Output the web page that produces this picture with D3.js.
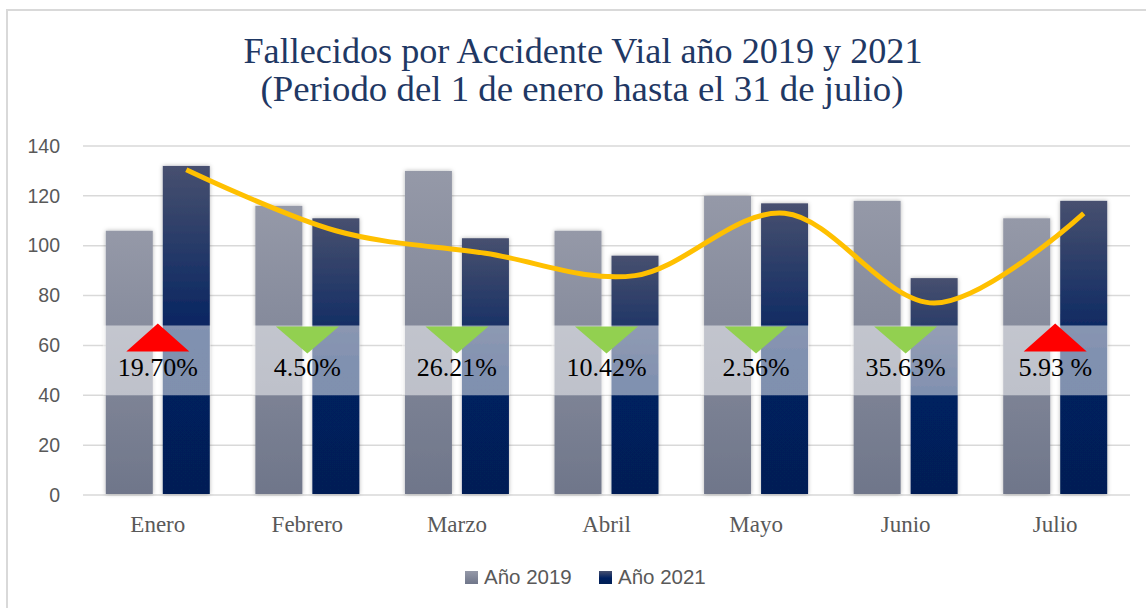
<!DOCTYPE html>
<html>
<head>
<meta charset="utf-8">
<script src="https://cdn.jsdelivr.net/npm/d3@7"></script>
<style>
  body { margin: 0; background: #fff; }
  svg { display: block; }
</style>
</head>
<body>
<svg id="chart"></svg>
<script>
// Data
const months = ["Enero", "Febrero", "Marzo", "Abril", "Mayo", "Junio", "Julio"];
const years = ["Año 2019", "Año 2021"];
const deaths2019 = [106, 116, 130, 106, 120, 118, 111];
const deaths2021 = [132, 111, 103, 96, 117, 87, 118];
const trendValues = [130.5, 106, 97, 88, 113, 77, 113];
const changeLabels = ["19.70%", "4.50%", "26.21%", "10.42%", "2.56%", "35.63%", "5.93 %"];
const changeDir = ["up", "down", "down", "down", "down", "down", "up"];
const yTicks = [0, 20, 40, 60, 80, 100, 120, 140];

// Configuration
const W = 1146, H = 608;
const plot = { left: 83, right: 1130, top: 146, bottom: 495 };
const serif = "'Liberation Serif', 'Times New Roman', serif";
const sans = "'Liberation Sans', Arial, sans-serif";

const svg = d3.select("#chart").attr("width", W).attr("height", H);

// gradients + shadow
const defs = svg.append("defs");
const g19 = defs.append("linearGradient").attr("id", "g2019")
    .attr("x1", 0).attr("y1", 0).attr("x2", 0).attr("y2", 1);
g19.append("stop").attr("offset", "0%").attr("stop-color", "#9599a8");
g19.append("stop").attr("offset", "100%").attr("stop-color", "#6f768a");
const g21 = defs.append("linearGradient").attr("id", "g2021")
    .attr("x1", 0).attr("y1", 0).attr("x2", 0).attr("y2", 1);
g21.append("stop").attr("offset", "0%").attr("stop-color", "#47506f");
g21.append("stop").attr("offset", "55%").attr("stop-color", "#002060");
g21.append("stop").attr("offset", "100%").attr("stop-color", "#001f55");
const shadow = defs.append("filter").attr("id", "shadow")
    .attr("x", "-20%").attr("y", "-10%").attr("width", "140%").attr("height", "120%");
shadow.append("feDropShadow").attr("dx", 0).attr("dy", 0)
    .attr("stdDeviation", 2.2).attr("flood-color", "#000").attr("flood-opacity", 0.3);

// chart border
svg.append("rect")
    .attr("x", 7).attr("y", 10).attr("width", W + 10).attr("height", H + 10)
    .attr("fill", "none").attr("stroke", "#d9d9d9").attr("stroke-width", 2);

// Title
const title = svg.append("g").attr("fill", "#1f3864").attr("font-family", serif)
    .attr("font-size", 35).attr("text-anchor", "middle");
title.append("text").attr("x", 583).attr("y", 63)
    .attr("textLength", 679).attr("lengthAdjust", "spacingAndGlyphs")
    .text("Fallecidos por Accidente Vial año 2019 y 2021");
title.append("text").attr("x", 582).attr("y", 101)
    .attr("textLength", 643).attr("lengthAdjust", "spacingAndGlyphs")
    .text("(Periodo del 1 de enero hasta el 31 de julio)");

// Scales
const x = d3.scaleBand().domain(months).range([plot.left, plot.right]).padding(0);
const x1 = d3.scaleBand().domain(years)
    .range([x.bandwidth() / 2 - 52, x.bandwidth() / 2 + 52])
    .paddingInner(10 / 57).paddingOuter(0);
const y = d3.scaleLinear().domain([0, 140]).range([plot.bottom, plot.top]);

// Grid
svg.append("g")
    .selectAll("line").data(yTicks).join("line")
    .attr("x1", plot.left).attr("x2", plot.right)
    .attr("y1", d => y(d)).attr("y2", d => y(d))
    .attr("stroke", "#d9d9d9").attr("stroke-width", 1.5);

// Y axis
const yAxis = svg.append("g").attr("transform", "translate(60,0)")
    .call(d3.axisLeft(y).tickValues(yTicks).tickSize(0).tickPadding(0));
yAxis.select(".domain").remove();
yAxis.selectAll("text")
    .attr("font-family", sans).attr("font-size", 19.5).attr("fill", "#595959");

// X axis labels
const xAxis = svg.append("g").attr("transform", `translate(0,${plot.bottom})`)
    .call(d3.axisBottom(x).tickSize(0).tickPadding(0));
xAxis.select(".domain").remove();
xAxis.selectAll("text")
    .attr("font-family", serif).attr("font-size", 23).attr("fill", "#595959")
    .attr("dy", null).attr("y", 37);

// Bars
const rows = months.map((m, i) => ({ month: m, values: [
    { year: years[0], value: deaths2019[i] },
    { year: years[1], value: deaths2021[i] }
] }));

svg.append("g")
    .selectAll("g").data(rows).join("g")
    .attr("transform", d => `translate(${x(d.month)},0)`)
    .selectAll("rect").data(d => d.values).join("rect")
    .attr("x", d => x1(d.year))
    .attr("width", x1.bandwidth())
    .attr("y", d => y(d.value))
    .attr("height", d => y(0) - y(d.value) - 1)
    .attr("fill", d => d.year === years[0] ? "url(#g2019)" : "url(#g2021)")
    .attr("filter", "url(#shadow)");

// Trend line (through the 2021 bar centres), Excel-style smoothing
const line = d3.line()
    .x((d, i) => x(months[i]) + x1(years[1]) + x1.bandwidth() / 2)
    .y(d => y(d))
    .curve(d3.curveCardinal.tension(0));
svg.append("path").datum(trendValues)
    .attr("d", line)
    .attr("fill", "none").attr("stroke", "#ffc000").attr("stroke-width", 5)
    .attr("stroke-linecap", "butt");

// Change annotations
const boxTop = 68, boxBottom = 40, boxW = 108;
const notes = svg.append("g").selectAll("g").data(months).join("g")
    .attr("transform", d => `translate(${x(d) + x.bandwidth() / 2},0)`);

notes.append("rect")
    .attr("x", -boxW / 2 - 1).attr("width", boxW)
    .attr("y", y(boxTop)).attr("height", y(boxBottom) - y(boxTop))
    .attr("fill", "#ffffff").attr("fill-opacity", 0.5);

notes.append("path")
    .attr("d", (d, i) => {
        const hw = 31.5;
        if (changeDir[i] === "up") {
            const a = y(boxTop) - 2, b = a + 28;
            return `M${-hw},${b}L${hw},${b}L0,${a}Z`;
        }
        const a = y(boxTop) + 1, b = a + 27;
        return `M${-hw},${a}L${hw},${a}L0,${b}Z`;
    })
    .attr("fill", (d, i) => changeDir[i] === "up" ? "#ff0000" : "#92d050");

notes.append("text")
    .attr("y", 376)
    .attr("text-anchor", "middle")
    .attr("font-family", serif).attr("font-size", 26).attr("fill", "#000")
    .text((d, i) => changeLabels[i]);

// Legend
const legend = svg.append("g").attr("transform", "translate(465,577)");
const items = legend.selectAll("g").data(years).join("g")
    .attr("transform", (d, i) => `translate(${i * 134},0)`);
items.append("rect")
    .attr("x", 0).attr("y", -6).attr("width", 13).attr("height", 13)
    .attr("fill", (d, i) => i === 0 ? "url(#g2019)" : "url(#g2021)");
items.append("text")
    .attr("x", 19).attr("y", 0).attr("dy", "0.35em")
    .attr("font-family", sans).attr("font-size", 20.5).attr("fill", "#595959")
    .text(d => d);
</script>
</body>
</html>
